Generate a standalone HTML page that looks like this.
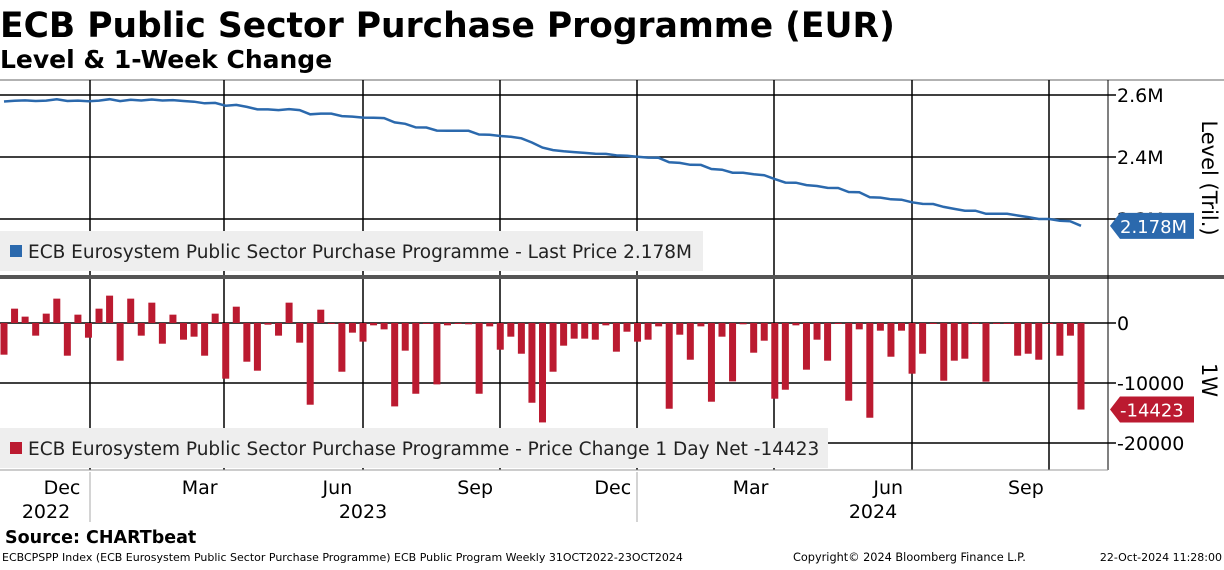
<!DOCTYPE html>
<html><head><meta charset="utf-8"><style>
body{margin:0;width:1224px;height:566px;background:#fff;overflow:hidden;font-family:"DejaVu Sans",sans-serif}
svg text{font-family:"DejaVu Sans",sans-serif}
</style></head><body>
<svg id="c" width="1224" height="566">
<text x="0" y="37" font-size="34.5" font-weight="bold">ECB Public Sector Purchase Programme (EUR)</text>
<text x="0" y="68" font-size="25" font-weight="bold">Level &amp; 1-Week Change</text>
<line x1="0" y1="80" x2="1224" y2="80" stroke="#999" stroke-width="1.5"/>
<g id="grid"></g>
<rect x="0" y="275" width="1224" height="4" fill="#555"/>
<g id="marks"></g>
<rect x="0" y="231" width="703" height="40" fill="#eee"/>
<rect x="10" y="245" width="12" height="12" fill="#2b69ad"/>
<text x="28" y="258" font-size="18.5" fill="#222">ECB Eurosystem Public Sector Purchase Programme - Last Price 2.178M</text>
<rect x="0" y="428" width="828" height="40" fill="#eee"/>
<rect x="10" y="442" width="12" height="12" fill="#bb1a30"/>
<text x="28" y="455" font-size="18.5" fill="#222">ECB Eurosystem Public Sector Purchase Programme - Price Change 1 Day Net -14423</text>
<line x1="1108" y1="80" x2="1108" y2="470" stroke="#000" stroke-width="1"/>
<line x1="0" y1="470" x2="1108" y2="470" stroke="#999" stroke-width="1"/>
<g id="axes"></g>
<text transform="translate(1202,178) rotate(90)" text-anchor="middle" font-size="21">Level (Tril.)</text>
<text transform="translate(1202,380) rotate(90)" text-anchor="middle" font-size="21">1W</text>
<line x1="90" y1="472" x2="90" y2="522" stroke="#aaa"/>
<line x1="637" y1="472" x2="637" y2="522" stroke="#aaa"/>
<text x="46" y="518" font-size="19" text-anchor="middle">2022</text>
<text x="363" y="518" font-size="19" text-anchor="middle">2023</text>
<text x="873" y="518" font-size="19" text-anchor="middle">2024</text>
<text x="5" y="543" font-size="17.5" font-weight="bold">Source: CHARTbeat</text>
<text x="2" y="561" font-size="11">ECBCPSPP Index (ECB Eurosystem Public Sector Purchase Programme) ECB Public Program  Weekly 31OCT2022-23OCT2024</text>
<text x="793" y="561" font-size="11.3">Copyright© 2024 Bloomberg Finance L.P.</text>
<text x="1222" y="561" font-size="11" text-anchor="end">22-Oct-2024 11:28:00</text>
</svg>
<script>
const changes=[-5280,2390,1060,-2110,1560,4060,-5450,1390,-2450,2390,4560,-6280,4060,-2110,3390,-3450,1390,-2780,-2280,-5450,1560,-9280,2720,-6450,-7950,-280,-2110,3390,-3280,-13620,2220,-60,-8120,-1610,-3110,
-390,-1060,-13900,-4610,-11790,-60,-10230,-390,-60,-220,-11790,-560,-4450,-2280,-5120,-13290,-16570,-8120,-3780,-2610,-2610,-2780,-390,-4780,-1450,-3110,-2780,-560,-14290,-1950,-6120,-560,-13120,-2280,
-9730,-220,-4950,-2950,-12620,-11120,-390,-7780,-2780,-6280,-60,-12950,-1060,-15790,-1280,-5620,-1280,-8450,-5120,-60,-9620,-6280,-5950,-60,-9780,-60,-60,-5450,-5120,-6120,-60,-5450,-2110,-14423];
const lastLevel=2178000;
const levelTicks=[2600000,2400000,2200000];
const levelTickLabels=["2.6M","2.4M","2.2M"];
const changeTicks=[0,-10000,-20000];
const changeTickLabels=["0","-10000","-20000"];
const monthLabels=["Dec","Mar","Jun","Sep","Dec","Mar","Jun","Sep"];
const monthPos=[0,3,6,9,12,15,18,21];
const NS="http://www.w3.org/2000/svg";
function mk(t,a,p){const e=document.createElementNS(NS,t);for(const k in a)e.setAttribute(k,a[k]);p.appendChild(e);return e;}
const n=changes.length;
const xi=i=>4+i*(1077/(n-1));
const xm=m=>62+m*45.9;
const yL=v=>95+(2600000-v)/200000*62;
const yC=v=>323-v*0.006;
const grid=document.getElementById('grid'),marks=document.getElementById('marks'),axes=document.getElementById('axes');
const level=new Array(n);level[n-1]=lastLevel;
for(let i=n-2;i>=0;i--)level[i]=level[i+1]-changes[i+1];
[90,224,363,500,637,774,912,1049].forEach(x=>{
 const g=mk('line',{x1:x,y1:80,x2:x,y2:470,stroke:'#000','stroke-width':1.5},grid);
 
 
});
levelTicks.forEach((v,i)=>{
 const l=mk('line',{x1:0,y1:yL(v),x2:1116,y2:yL(v),stroke:'#000','stroke-width':1.5},grid);
 
 
 const t=mk('text',{x:1117,y:yL(v)+7,'font-size':19},axes);t.textContent=levelTickLabels[i];
 
 
});
changeTicks.forEach((v,i)=>{
 const l=mk('line',{x1:0,y1:yC(v),x2:1116,y2:yC(v),stroke:'#000','stroke-width':1.5},grid);
 
 
 const t=mk('text',{x:1117,y:yC(v)+7,'font-size':19},axes);t.textContent=changeTickLabels[i];
 
 
});
monthLabels.forEach((m,i)=>{
 const t=mk('text',{x:xm(monthPos[i]),y:494,'font-size':19,'text-anchor':'middle'},axes);t.textContent=m;
 
 
});
changes.forEach((v,i)=>{
 const y0=yC(0),y1=yC(v);
 const r=mk('rect',{x:xi(i)-3.5,y:Math.min(y0,y1),width:7,height:Math.max(1,Math.abs(y1-y0)),fill:'#bb1a30'},marks);
 
 
});
let d='';level.forEach((v,i)=>{d+=(i?'L':'M')+xi(i).toFixed(1)+' '+yL(v).toFixed(1);});
const p=mk('path',{d:d,fill:'none',stroke:'#2b69ad','stroke-width':2.5},marks);


function tag(y,txt,col,name){
 const g=mk('g',{},axes);
 
 
 mk('path',{d:`M1110 ${y} L1120 ${y-13} L1194 ${y-13} L1194 ${y+13} L1120 ${y+13} Z`,fill:col},g);
 const t=mk('text',{x:1120,y:y+7,'font-size':18,fill:'#fff'},g);t.textContent=txt;
}
tag(yL(level[n-1]),'2.178M','#2b69ad','level-value-tag');
tag(yC(changes[n-1]),String(changes[n-1]),'#bb1a30','change-value-tag');
</script>
</body></html>
